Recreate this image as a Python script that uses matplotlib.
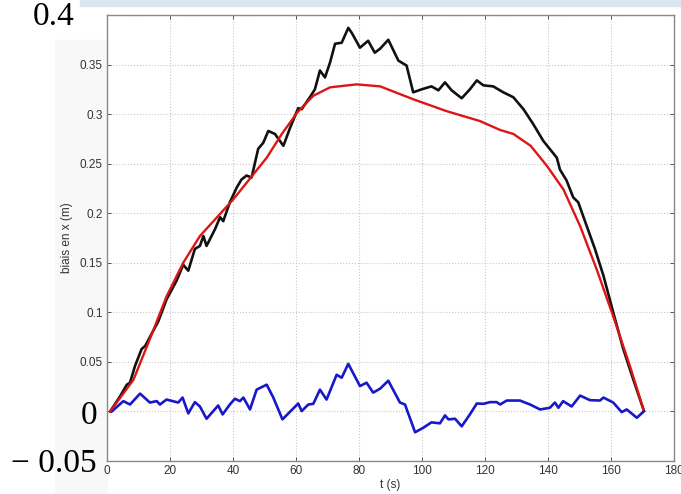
import numpy as np
import matplotlib
matplotlib.use("Agg")
import matplotlib.pyplot as plt
from matplotlib.patches import Rectangle

# Data (t in s, bias in m)
t_black = [1, 4.1, 6.3, 7.3, 8.9, 11, 12.1, 16.3, 18.9, 22.1, 24.2, 25.8, 27.9,
           29.5, 30.6, 31.6, 34.3, 35.9, 36.9, 39, 41.2, 42.7, 44.3, 45.9, 48,
           49.6, 51.2, 53.3, 56, 58.1, 60.7, 61.8, 64.4, 66, 67.6, 69.2, 70.8,
           72.4, 74.5, 76.6, 77.7, 80.3, 82.9, 85, 86.7, 89.3, 92.5, 95.1, 97.2,
           99.9, 103, 105.2, 107.3, 109.4, 112.6, 115.2, 117.4, 119.5, 122.6,
           125.8, 129, 132.2, 135.3, 138.5, 142.8, 143.8, 145.9, 148, 149.6,
           152.3, 154.9, 157.6, 160.7, 163.9, 167.1, 170.3]
v_black = [0, 0.015, 0.027, 0.029, 0.046, 0.063, 0.066, 0.091, 0.113, 0.132,
           0.148, 0.142, 0.164, 0.167, 0.177, 0.167, 0.184, 0.196, 0.192, 0.211,
           0.226, 0.234, 0.238, 0.236, 0.265, 0.271, 0.283, 0.280, 0.268, 0.286,
           0.306, 0.305, 0.317, 0.325, 0.344, 0.337, 0.352, 0.371, 0.372, 0.387,
           0.382, 0.367, 0.374, 0.362, 0.366, 0.375, 0.354, 0.349, 0.322, 0.325,
           0.328, 0.324, 0.332, 0.324, 0.316, 0.325, 0.334, 0.329, 0.328, 0.322,
           0.317, 0.305, 0.290, 0.273, 0.256, 0.244, 0.233, 0.216, 0.211, 0.187,
           0.164, 0.137, 0.100, 0.063, 0.032, 0.002]

t_red = [1, 8.4, 13.6, 18.9, 24.2, 29.5, 40.1, 50.7, 55.5, 60.5, 65.5, 70.8,
         79.2, 86.7, 97.2, 107.8, 118.4, 124.8, 129, 134.5, 139.6, 144.9, 150.2,
         155.5, 160.7, 166, 170.3]
v_red = [0, 0.032, 0.073, 0.116, 0.150, 0.177, 0.214, 0.256, 0.280, 0.302,
         0.3185, 0.327, 0.330, 0.328, 0.315, 0.303, 0.293, 0.284, 0.280, 0.268,
         0.248, 0.224, 0.187, 0.143, 0.096, 0.046, 0.002]

t_blue = [1.5, 5.2, 7.3, 10.5, 13.6, 15.8, 16.8, 18.9, 22.6, 24, 25.8, 27.9,
          29.5, 31.6, 35.3, 36.7, 39, 40.6, 42.2, 43.3, 45.4, 47.5, 50.7, 52.8,
          55.7, 60.7, 61.8, 63.9, 65.5, 67.6, 69.7, 72.9, 74.5, 76.6, 80.3,
          82.4, 84.5, 86.7, 89.3, 93, 94.6, 97.8, 100.4, 103, 105.7, 107.3,
          108.4, 110.5, 112.6, 115.2, 117.4, 119.5, 121.6, 123.7, 124.8, 126.9,
          131.1, 134.3, 137.5, 140.6, 142.2, 143.3, 144.8, 147.5, 150.2, 153.3,
          156.5, 157.6, 160.7, 163.4, 165, 168.2, 170.5]
v_blue = [0, 0.0104, 0.007, 0.018, 0.009, 0.0104, 0.007, 0.012, 0.009, 0.014,
          -0.002, 0.0094, 0.005, -0.0074, 0.006, -0.003, 0.007, 0.0128, 0.0104,
          0.014, 0.002, 0.022, 0.027, 0.014, -0.008, 0.008, 0.0003, 0.007,
          0.0077, 0.022, 0.012, 0.037, 0.034, 0.048, 0.0256, 0.029, 0.019,
          0.023, 0.031, 0.009, 0.007, -0.021, -0.0165, -0.011, -0.012, -0.004,
          -0.008, -0.0074, -0.015, -0.003, 0.008, 0.0077, 0.0094, 0.0094, 0.007,
          0.011, 0.011, 0.007, 0.002, 0.0037, 0.009, 0.0037, 0.0104, 0.005,
          0.016, 0.0114, 0.011, 0.014, 0.009, -0.0007, 0.002, -0.0064, 0.0003]

x_ticks = np.arange(0, 181, 20)
y_ticks = [-0.05, 0, 0.05, 0.1, 0.15, 0.2, 0.25, 0.3, 0.35, 0.4]
y_ticklabels = ['', '', '0.05', '0.1', '0.15', '0.2', '0.25', '0.3', '0.35', '']

plt.rcParams['font.family'] = ['Liberation Sans', 'DejaVu Sans']

W, H = 681, 494
fig = plt.figure(figsize=(W / 100, H / 100), dpi=100)
fig.patch.set_facecolor('white')

# slide decoration: light band at the top and faint grey strip left of the axes
fig.patches.append(Rectangle((80 / W, 1 - 6 / H), 1, 6 / H,
                             transform=fig.transFigure, color='#dbe5f1', zorder=-10))
fig.patches.append(Rectangle((55 / W, 0), 52 / W, 1 - 40 / H,
                             transform=fig.transFigure, color='#f8f8f8', zorder=-10))

ax = fig.add_axes([107 / W, 1 - 461 / H, (674 - 107) / W, (461 - 15) / H])
ax.set_facecolor('white')

ax.plot(t_black, v_black, color='#111111', lw=1.9, zorder=3)
ax.plot(t_red, v_red, color='#dd1515', lw=1.7, zorder=4)
ax.plot(t_blue, v_blue, color='#1818c8', lw=1.9, zorder=3)

ax.set_xlim(0, 180)
ax.set_ylim(-0.05, 0.4)
ax.set_xticks(x_ticks)
ax.set_yticks(y_ticks)
ax.set_yticklabels(y_ticklabels)
ax.grid(True, color='#c8c8c8', linestyle=':', linewidth=0.8)
ax.tick_params(direction='in', top=True, right=True, length=3, width=0.7,
               color='#555555', labelsize=8.5, labelcolor='#333333', pad=3)
for s in ax.spines.values():
    s.set_color('#888888')
    s.set_linewidth(1.0)

ax.set_xlabel('t (s)', fontsize=8.5, color='#333333', labelpad=1)
ax.set_ylabel('biais en x (m)', fontsize=8.5, color='#333333', labelpad=5)

# large serif labels overlaid on the slide
serif = 'Liberation Serif'
fig.text(74 / W, 1 - 17 / H, '0.4', fontsize=24, family=serif,
         ha='right', va='center')
fig.text(97 / W, 1 - 416 / H, '0', fontsize=24, family=serif,
         ha='right', va='center')
fig.text(97 / W, 1 - 464 / H, '\u2212 0.05', fontsize=24, family=serif,
         ha='right', va='center')

fig.savefig('out.png', dpi=100)
